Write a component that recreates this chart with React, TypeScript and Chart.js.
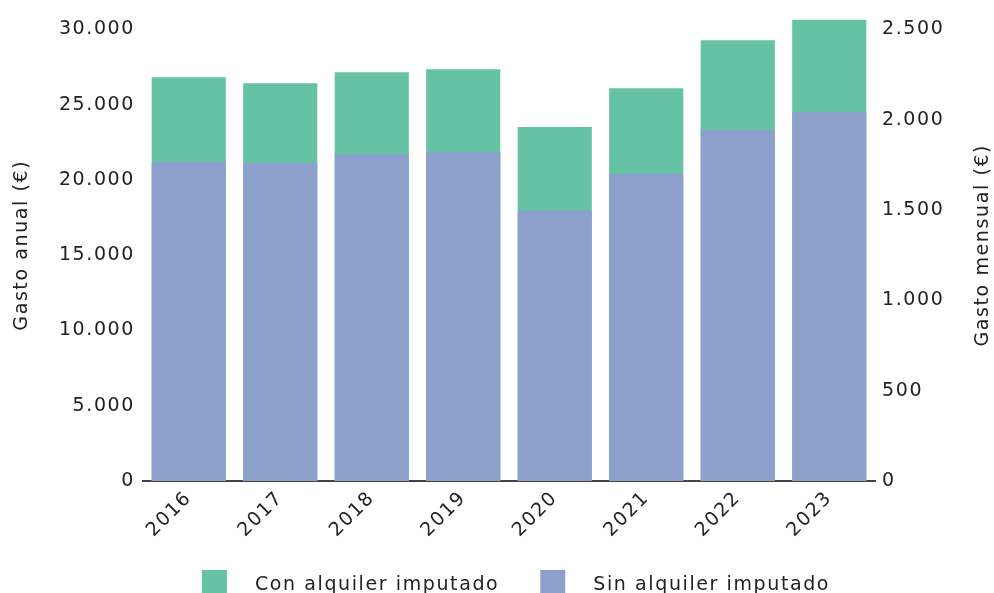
import { Chart, registerables } from 'chart.js';
import type { Plugin } from 'chart.js';
import { useEffect, useRef } from 'react';

Chart.register(...registerables);

const YEARS = ['2016', '2017', '2018', '2019', '2020', '2021', '2022', '2023'];
// gasto anual por hogar (€)
const CON_ALQUILER = [26820, 26420, 27150, 27350, 23510, 26090, 29270, 30660];
const SIN_ALQUILER = [21190, 21130, 21720, 21850, 17950, 20400, 23310, 24500];

const LEFT_TICKS = [0, 5000, 10000, 15000, 20000, 25000, 30000];
const RIGHT_TICKS = [0, 500, 1000, 1500, 2000, 2500];

const LABEL_CON = 'Con alquiler imputado';
const LABEL_SIN = 'Sin alquiler imputado';
const TITLE_LEFT = 'Gasto anual (€)';
const TITLE_RIGHT = 'Gasto mensual (€)';

const GREEN = '#66c2a5';
const BLUE = '#8da0cb';
const TEXT = '#222222';
const FONT = '19px "DejaVu Sans"';
const SPACING = '1.6px';

const Y_MAX = Math.max(...CON_ALQUILER);

const fmt = (v: number) =>
    String(Math.round(v)).replace(/\B(?=(\d{3})+(?!\d))/g, '.');

// text spacing + axis titles + legend drawn on the canvas
const extras: Plugin<'bar'> = {
    id: 'extras',
    beforeUpdate(chart) {
        (chart.ctx as any).letterSpacing = SPACING;
    },
    beforeDraw(chart) {
        (chart.ctx as any).letterSpacing = SPACING;
    },
    afterDraw(chart) {
        const { ctx, chartArea } = chart;
        const midY = (chartArea.top + chartArea.bottom) / 2 - 5;
        ctx.save();
        (ctx as any).letterSpacing = SPACING;
        ctx.font = FONT;
        ctx.fillStyle = TEXT;
        ctx.textAlign = 'center';
        ctx.textBaseline = 'middle';
        for (const [x, t] of [
            [22, TITLE_LEFT],
            [983, TITLE_RIGHT],
        ] as [number, string][]) {
            ctx.save();
            ctx.translate(x, midY);
            ctx.rotate(-Math.PI / 2);
            ctx.fillText(t, 0, 0);
            ctx.restore();
        }

        // legend
        const items = chart.data.datasets.map((d) => ({
            label: d.label as string,
            color: d.backgroundColor as string,
        }));
        const box = 25;
        const gap = 28;
        const itemGap = 41;
        const widths = items.map((it) => box + gap + ctx.measureText(it.label).width);
        const total = widths.reduce((a, b) => a + b, 0) + itemGap * (items.length - 1);
        let x = 516 - total / 2;
        const top = 570;
        ctx.textAlign = 'left';
        ctx.textBaseline = 'alphabetic';
        items.forEach((it, i) => {
            ctx.fillStyle = it.color;
            ctx.fillRect(x, top, box, box);
            ctx.fillStyle = TEXT;
            ctx.fillText(it.label, x + box + gap, 590);
            x += widths[i] + itemGap;
        });
        ctx.restore();
    },
};

function GastoChart() {
    const canvasRef = useRef<HTMLCanvasElement>(null);
    const chartRef = useRef<Chart | null>(null);

    useEffect(() => {
        if (!canvasRef.current) return;
        chartRef.current?.destroy();

        Chart.defaults.font.family = '"DejaVu Sans"';
        Chart.defaults.font.size = 19;
        Chart.defaults.color = TEXT;

        chartRef.current = new Chart(canvasRef.current, {
            type: 'bar',
            data: {
                labels: YEARS,
                datasets: [
                    {
                        label: LABEL_CON,
                        data: CON_ALQUILER,
                        backgroundColor: GREEN,
                        grouped: false,
                        order: 2,
                        barPercentage: 0.81,
                        categoryPercentage: 1,
                    },
                    {
                        label: LABEL_SIN,
                        data: SIN_ALQUILER,
                        backgroundColor: BLUE,
                        grouped: false,
                        order: 1,
                        barPercentage: 0.81,
                        categoryPercentage: 1,
                    },
                ],
            },
            options: {
                responsive: true,
                maintainAspectRatio: false,
                animation: false,
                layout: { padding: { top: 18, left: 0, right: 0, bottom: 0 } },
                plugins: {
                    legend: { display: false },
                    tooltip: { enabled: false },
                },
                scales: {
                    x: {
                        grid: { display: false, drawTicks: false },
                        border: { display: true, color: '#444444', width: 2 },
                        ticks: { minRotation: 45, maxRotation: 45, padding: 6 },
                        afterFit: (s) => {
                            s.height = 112;
                        },
                    },
                    y: {
                        position: 'left',
                        min: 0,
                        max: Y_MAX,
                        grid: { display: false, drawTicks: false },
                        border: { display: false },
                        ticks: {
                            padding: 8,
                            callback: (v) => fmt(Number(v)),
                        },
                        afterBuildTicks: (s) => {
                            s.ticks = LEFT_TICKS.map((value) => ({ value }));
                        },
                        afterFit: (s) => {
                            s.width = 143;
                        },
                    },
                    y2: {
                        position: 'right',
                        display: true,
                        min: 0,
                        max: Y_MAX / 12,
                        grid: { display: false, drawTicks: false },
                        border: { display: false },
                        ticks: {
                            padding: 7,
                            callback: (v) => fmt(Number(v)),
                        },
                        afterBuildTicks: (s) => {
                            s.ticks = RIGHT_TICKS.map((value) => ({ value }));
                        },
                        afterFit: (s) => {
                            s.width = 119;
                        },
                    },
                },
            },
            plugins: [extras],
        });

        return () => {
            chartRef.current?.destroy();
            chartRef.current = null;
        };
    }, []);

    return (
        <div style={{ position: 'absolute', left: 0, top: 0, width: 994, height: 593 }}>
            <canvas ref={canvasRef} />
        </div>
    );
}

export default function App() {
    return <GastoChart />;
}
